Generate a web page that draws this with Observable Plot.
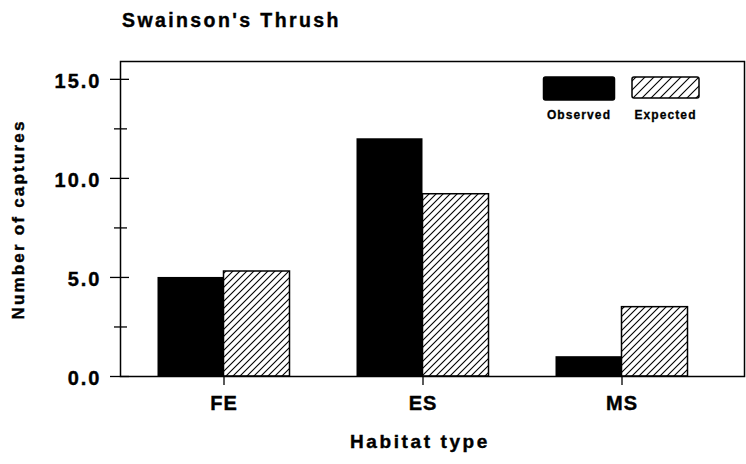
<!DOCTYPE html>
<html><head><meta charset="utf-8">
<script src="https://cdn.jsdelivr.net/npm/d3@7"></script>
<script src="https://cdn.jsdelivr.net/npm/@observablehq/plot@0.6"></script>
<style>
body{margin:0;background:#fff;font-family:"Liberation Sans",Arial,Helvetica,sans-serif;}
#wrap{position:relative;width:746px;height:464px;overflow:hidden;}
.t{position:absolute;font-weight:bold;color:#000;white-space:nowrap;line-height:1;-webkit-text-stroke:0.4px #000;}
#chart{position:absolute;left:0;top:0;}
</style></head><body>
<div id="wrap">
  <div id="chart"></div>
  <div class="t" id="title" style="left:122px;top:11px;font-size:19.5px;letter-spacing:2.4px;">Swainson's Thrush</div>
  <div class="t" id="ytitle" style="left:-92px;top:211px;width:220px;height:17px;line-height:17px;font-size:17px;letter-spacing:2.2px;text-align:center;transform:rotate(-90deg);">Number of captures</div>
  <div class="t" id="xtitle" style="left:320px;top:432px;width:200px;text-align:center;font-size:19px;letter-spacing:2.6px;">Habitat type</div>
  <div id="legend" style="position:absolute;left:540px;top:74px;"></div>
</div>
<script>
// ---- data ----
const habitats = ["FE", "ES", "MS"];
const observed = [5.0, 12.0, 1.0];
const expected = [5.3, 9.2, 3.5];
const seriesNames = ["Observed", "Expected"];
const yMajorTicks = [0, 5, 10, 15];
const yMinorTicks = [2.5, 7.5, 12.5];

const rows = habitats.flatMap((h, i) => [
  {habitat: h, series: seriesNames[0], value: observed[i]},
  {habitat: h, series: seriesNames[1], value: expected[i]}
]);

const W = 746, H = 464, mL = 120, mR = 2, mT = 61, mB = 88;
const plotW = W - mL - mR;

const chart = Plot.plot({
  width: W, height: H,
  marginLeft: mL, marginRight: mR, marginTop: mT, marginBottom: mB,
  style: {fontFamily: '"Liberation Sans", Arial, sans-serif', fontWeight: "bold", color: "black", background: "white"},
  x: {domain: habitats, range: [123.5, 720.5], padding: 0, label: null},
  y: {domain: [0, 15.9], label: null},
  marks: [
    Plot.barY(rows.filter(d => d.series === "Observed"), {x: "habitat", y: "value", fill: "black", insetLeft: 33.5, insetRight: 99.5}),
    Plot.barY(rows.filter(d => d.series === "Expected"), {x: "habitat", y: "value", fill: "url(#hatch)", stroke: "black", strokeWidth: 1.5, insetLeft: 99.5, insetRight: 33.5}),
    Plot.frame({stroke: "black", strokeWidth: 1.5}),
    Plot.tickY(yMajorTicks, {y: d => d, stroke: "black", strokeWidth: 1.3, insetLeft: -10, insetRight: plotW - 9}),
    Plot.tickY(yMinorTicks, {y: d => d, stroke: "black", strokeWidth: 1.3, insetLeft: -6, insetRight: plotW - 7}),
    Plot.axisY(yMajorTicks, {tickSize: 0, tickPadding: 19, fontSize: 20, tickFormat: d => d.toFixed(1), dy: 2, label: null}),
    Plot.axisX({tickSize: 9, tickPadding: 10, fontSize: 20, label: null, strokeWidth: 1.3})
  ]
});

const svg = d3.select(chart);
svg.insert("defs", ":first-child").html(
  '<pattern id="hatch" patternUnits="userSpaceOnUse" width="7" height="7">' +
  '<rect width="7" height="7" fill="white"/>' +
  '<path d="M-1,1 l2,-2 M0,7 l7,-7 M6,8 l2,-2" stroke="black" stroke-width="1.1"/></pattern>'
);
svg.selectAll('[aria-label="y-axis tick label"] text, [aria-label="y-axis tick label"]')
  .style("font-size", "20px").style("letter-spacing", "2px");
svg.selectAll('[aria-label="x-axis tick label"] text, [aria-label="x-axis tick label"]')
  .style("font-size", "20px").style("letter-spacing", "1px");
svg.selectAll('[aria-label$="tick label"] text').attr("stroke", "black").attr("stroke-width", 0.4);
document.getElementById("chart").appendChild(chart);

// ---- legend ----
const lg = d3.select("#legend").append("svg").attr("width", 170).attr("height", 52);
lg.append("defs").html(
  '<pattern id="hatchL" patternUnits="userSpaceOnUse" width="9" height="9">' +
  '<rect width="9" height="9" fill="white"/>' +
  '<path d="M-1,1 l2,-2 M0,9 l9,-9 M8,10 l2,-2" stroke="black" stroke-width="1.1"/></pattern>'
);
const swatches = [
  {name: seriesNames[0], x: 3.5, w: 71, h: 23, fill: "black", stroke: "black"},
  {name: seriesNames[1], x: 92, w: 67, h: 21, fill: "url(#hatchL)", stroke: "black"}
];
swatches.forEach(s => {
  lg.append("rect").attr("x", s.x).attr("y", 3).attr("width", s.w).attr("height", s.h)
    .attr("rx", 2).attr("fill", s.fill).attr("stroke", s.stroke).attr("stroke-width", 1.5);
  lg.append("text").attr("x", s.x + s.w / 2).attr("y", 45).attr("text-anchor", "middle")
    .attr("font-size", 12).attr("font-weight", "bold").attr("letter-spacing", "1.1px")
    .attr("stroke", "black").attr("stroke-width", 0.3)
    .attr("font-family", '"Liberation Sans", Arial, sans-serif').text(s.name);
});
</script>
</body></html>
